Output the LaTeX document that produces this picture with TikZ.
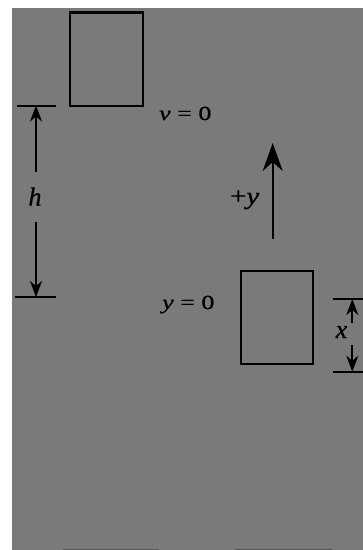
\documentclass[tikz,border=0pt]{standalone}
\usepackage{fontspec}
\setmainfont[Numbers=Lining, FakeBold=0.8]{Liberation Serif}
\usetikzlibrary{arrows.meta}
\definecolor{bggray}{RGB}{122,122,122}
\definecolor{edgegray}{RGB}{85,85,85}
\tikzset{
  box/.style={draw=black, line width=2.5pt, minimum width=#1, inner sep=0pt},
  tick/.style={line width=2pt},
  dimarrow/.style={line width=2pt, -{Stealth[length=16pt, width=12pt, inset=5pt]}},
  bigarrow/.style={line width=2.2pt, -{Stealth[length=28pt, width=20pt, inset=9pt]}},
  lbl/.style={inner sep=0pt, text=black},
}
\begin{document}
\begin{tikzpicture}[x=1pt, y=-1pt]
\useasboundingbox (0,0) rectangle (363,550);
\fill[bggray] (12,8) rectangle (363,550);
\fill[edgegray] (63,548.5) rectangle (159,550);
\fill[edgegray] (235,548.5) rectangle (332,550);
% boxes
\node[box=73pt, minimum height=93.5pt] (topbox) at (106.5,59) {};
\node[box=72pt, minimum height=93pt] (botbox) at (277,317.5) {};
% h dimension
\coordinate (htl) at (17,105.5);
\coordinate (htr) at (56,105.5);
\coordinate (hbl) at (15,297);
\coordinate (hbr) at (56,297);
\coordinate (htop) at (36,105.5);
\coordinate (hbot) at (36,297);
\draw[tick] (htl) -- (htr);
\draw[tick] (hbl) -- (hbr);
\node[lbl, anchor=base, font=\fontsize{26}{30}\selectfont\itshape] (hlabel) at (35,205.5) {h};
\coordinate (hup) at (36,172);
\coordinate (hdown) at (36,222);
\draw[dimarrow] (hup) -- (htop);
\draw[dimarrow] (hdown) -- (hbot);
% v = 0
\node[lbl, anchor=base west] (vlabel) at (159,120) {\scalebox{1.3}[1]{\fontsize{20}{24}\selectfont\itshape v\upshape\ = 0}};
% +y arrow
\coordinate (ytail) at (272.7,239);
\coordinate (ytip) at (272.7,143);
\draw[bigarrow] (ytail) -- (ytip);
\node[lbl, anchor=base west] (plusy) at (230,204) {\scalebox{1.2}[1]{\fontsize{24}{28}\selectfont +\itshape y}};
% y = 0
\node[lbl, anchor=base west] (ylabel) at (162,309) {\scalebox{1.3}[1]{\fontsize{20}{24}\selectfont\itshape y\upshape\ = 0}};
% x dimension
\coordinate (xtl) at (333,299);
\coordinate (xtr) at (363,299);
\coordinate (xbl) at (333,371.7);
\coordinate (xbr) at (363,371.7);
\coordinate (xtop) at (352.3,299);
\coordinate (xbot) at (352.3,371.7);
\draw[tick] (xtl) -- (xtr);
\draw[tick] (xbl) -- (xbr);
\node[lbl, anchor=base, font=\fontsize{26}{30}\selectfont\itshape] (xlabel) at (341.5,338) {x};
\coordinate (xup) at (352.3,323);
\coordinate (xdown) at (352.3,345);
\draw[dimarrow] (xup) -- (xtop);
\draw[dimarrow] (xdown) -- (xbot);
\end{tikzpicture}
\end{document}
